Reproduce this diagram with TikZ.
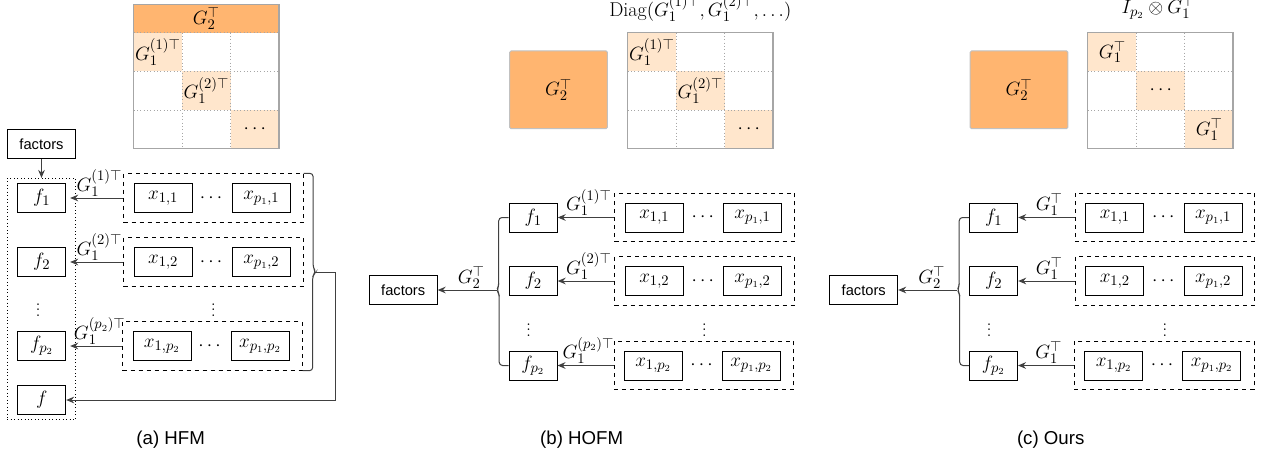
\documentclass[tikz,border=0pt]{standalone}
\usepackage{fontspec}
\newfontfamily\arialfont{Liberation Sans}
\usetikzlibrary{arrows.meta}

\definecolor{hdrorange}{HTML}{FFB570}
\definecolor{cellorange}{HTML}{FFE6CC}
\definecolor{matgray}{HTML}{A6A6A6}
\definecolor{linegray}{HTML}{404040}

\tikzset{
  box/.style={draw, line width=0.75pt, inner sep=1pt},
  fbox/.style={box, minimum width=36pt, minimum height=21.75pt},
  xbox/.style={box, minimum width=43.5pt, minimum height=21.75pt},
  factbox/.style={box, minimum width=51pt, minimum height=21.75pt, font=\arialfont\fontsize{11}{13}\selectfont},
  rowbox/.style={draw, dashed, line width=0.6pt, minimum width=134.7pt, minimum height=36.5pt},
  frame/.style={draw, dotted, line width=0.6pt, minimum width=51.5pt, minimum height=180.75pt},
  arr/.style={-{Stealth[length=6pt,width=5pt,inset=2pt]}, line width=0.75pt, linegray},
  bracket/.style={linegray, line width=0.75pt, rounded corners=2.5pt},
  lab/.style={above, inner sep=1pt, text=black},
  gridline/.style={matgray, dotted, line width=0.5pt},
  matborder/.style={matgray, line width=1pt},
  gbox/.style={fill=hdrorange, draw=matgray!70, line width=0.75pt, rounded corners=1pt, minimum width=73.2pt, minimum height=58.3pt},
  capt/.style={font=\arialfont\fontsize{14}{17}\selectfont}
}

\begin{document}
\begin{tikzpicture}[x=0.75pt, y=-0.75pt, font=\fontsize{15}{17}\selectfont]
\useasboundingbox (0,0) rectangle (1266,456);

% block matrices
\fill[hdrorange] (133.7,4.3) rectangle (279,32.7);
\foreach \mx/\my in {133.7/4.3, 627.7/32.7, 1087.7/32.7} {
  \foreach \i in {0,1,2}
    \fill[cellorange] (\mx+\i*48.43,32.7+\i*38.67) rectangle ++(48.43,38.67);
  \foreach \i in {1,2}
    \draw[gridline] (\mx+\i*48.43,32.7) -- (\mx+\i*48.43,148.7);
  \foreach \i in {0,1,2}
    \draw[gridline] (\mx,32.7+\i*38.67) -- ++(145.3,0);
  \draw[matborder] (\mx,\my) rectangle (\mx+145.3,148.7);
}
\node (ahead) at (206.3,18.5) {$G_2^\top$};
\node (am1) at (157.9,52) {$G_1^{(1)\top}$};
\node (am2) at (206.3,90.7) {$G_1^{(2)\top}$};
\node (am3) at (254.8,129.4) {$\cdots$};
\node[anchor=base] (blabel) at (700.3,16.7) {$\mathrm{Diag}(G_1^{(1)\top},G_1^{(2)\top},\ldots)$};
\node[anchor=base] (clabel) at (1158,13.3) {$I_{p_2}\otimes G_1^\top$};

% (a) HFM
\node[factbox] (afactors) at (41.5,144) {factors};
\node[frame] (aframe) at (41.5,298.8) {};
\draw[arr] (afactors) -- (aframe);
\node[fbox] (af1) at (41.7,198) {$f_1$};
\node[fbox] (af2) at (41.7,262) {$f_2$};
\node (avd) at (38,306) {$\vdots$};
\node[fbox] (afp) at (41.7,346) {$f_{p_2}$};
\node[fbox] (af) at (41.7,400) {$f$};

\node[rowbox] (arow1) at (213.5,198) {};
\node[xbox] (ax11) at (163.2,198) {$x_{1,1}$};
\node (ad1) at (211,198) {$\cdots$};
\node[xbox] (axp1) at (261.3,198) {$x_{p_1,1}$};
\node[rowbox] (arow2) at (213.5,262) {};
\node[xbox] (ax12) at (163.2,262) {$x_{1,2}$};
\node (ad2) at (211,262) {$\cdots$};
\node[xbox] (axp2) at (261.3,262) {$x_{p_1,2}$};
\node (avd2) at (213.3,306) {$\vdots$};
\node[rowbox] (arowp) at (212.3,346) {};
\node[xbox] (ax1p) at (162,346) {$x_{1,p_2}$};
\node (adp) at (209.5,346) {$\cdots$};
\node[xbox] (axpp) at (260.2,346) {$x_{p_1,p_2}$};

\draw[arr, shorten >=3pt] (arow1.west) -- (af1.east) node[lab, pos=0.42] {$G_1^{(1)\top}$};
\draw[arr, shorten >=3pt] (arow2.west) -- (af2.east) node[lab, pos=0.42] {$G_1^{(2)\top}$};
\draw[arr, shorten >=3pt] (arowp.west) -- (afp.east) node[lab, pos=0.4] {$G_1^{(p_2)\top}$};

\coordinate (atip) at (316,272);
\draw[bracket] (arow1.north east) -- ++(9.4,0) -- ++(0,94.5) -- (atip) -- ++(-3.3,3.5) |- (arowp.south east);
\draw[arr] (atip) -- ++(19,0) |- (af.east);

% (b) HOFM and (c) Ours
\foreach \p/\s/\ma/\mb/\mc/\la/\lb/\lc in {b/0/{G_1^{(1)\top}}/{G_1^{(2)\top}}/{\cdots}/{G_1^{(1)\top}}/{G_1^{(2)\top}}/{G_1^{(p_2)\top}},
    c/460.5/{G_1^\top}/{\cdots}/{G_1^\top}/{G_1^\top}/{G_1^\top}/{G_1^\top}} {
\begin{scope}[shift={(\s,0)}]
  \node[gbox] (\p G) at (558.5,89.8) {$G_2^\top$};
  \node (\p m1) at (651.9,52) {$\ma$};
  \node (\p m2) at (700.3,90.7) {$\mb$};
  \node (\p m3) at (748.8,129.4) {$\mc$};

  \node[factbox] (\p factors) at (403.2,290) {factors};
  \node[fbox] (\p f1) at (533.2,217.5) {$f_1$};
  \node[fbox] (\p f2) at (533.2,281) {$f_2$};
  \node (\p vd) at (528.7,326) {$\vdots$};
  \node[fbox] (\p fp) at (533,365.5) {$f_{p_2}$};

  \node[rowbox] (\p row1) at (704.5,217.5) {};
  \node[xbox] (\p x11) at (654.3,217.5) {$x_{1,1}$};
  \node (\p d1) at (702.7,217.5) {$\cdots$};
  \node[xbox] (\p xp1) at (752.5,217.5) {$x_{p_1,1}$};
  \node[rowbox] (\p row2) at (704.5,281) {};
  \node[xbox] (\p x12) at (654.3,281) {$x_{1,2}$};
  \node (\p d2) at (702.7,281) {$\cdots$};
  \node[xbox] (\p xp2) at (752.5,281) {$x_{p_1,2}$};
  \node (\p vd2) at (704.3,326) {$\vdots$};
  \node[rowbox] (\p rowp) at (703.7,365.5) {};
  \node[xbox] (\p x1p) at (653.3,365.5) {$x_{1,p_2}$};
  \node (\p dp) at (701.5,365.5) {$\cdots$};
  \node[xbox] (\p xpp) at (751.3,365.5) {$x_{p_1,p_2}$};

  \draw[arr] (\p row1.west) -- (\p f1.east) node[lab, pos=0.45] {$\la$};
  \draw[arr] (\p row2.west) -- (\p f2.east) node[lab, pos=0.45] {$\lb$};
  \draw[arr] (\p rowp.west) -- (\p fp.east) node[lab, pos=0.45] {$\lc$};

  \coordinate (\p tip) at (496.7,290);
  \draw[bracket] (\p f1.west) -- ++(-10,0) -- ++(0,68.5) -- (\p tip) -- ++(2.5,4) |- (\p fp.west);
  \draw[arr] (\p tip) -- (\p factors.east) node[lab, pos=0.43] {$G_2^\top$};
\end{scope}
}

\node[capt] (acap) at (170.7,440) {(a) HFM};
\node[capt] (bcap) at (581.7,440) {(b) HOFM};
\node[capt] (ccap) at (1050.7,440) {(c) Ours};
\end{tikzpicture}
\end{document}
